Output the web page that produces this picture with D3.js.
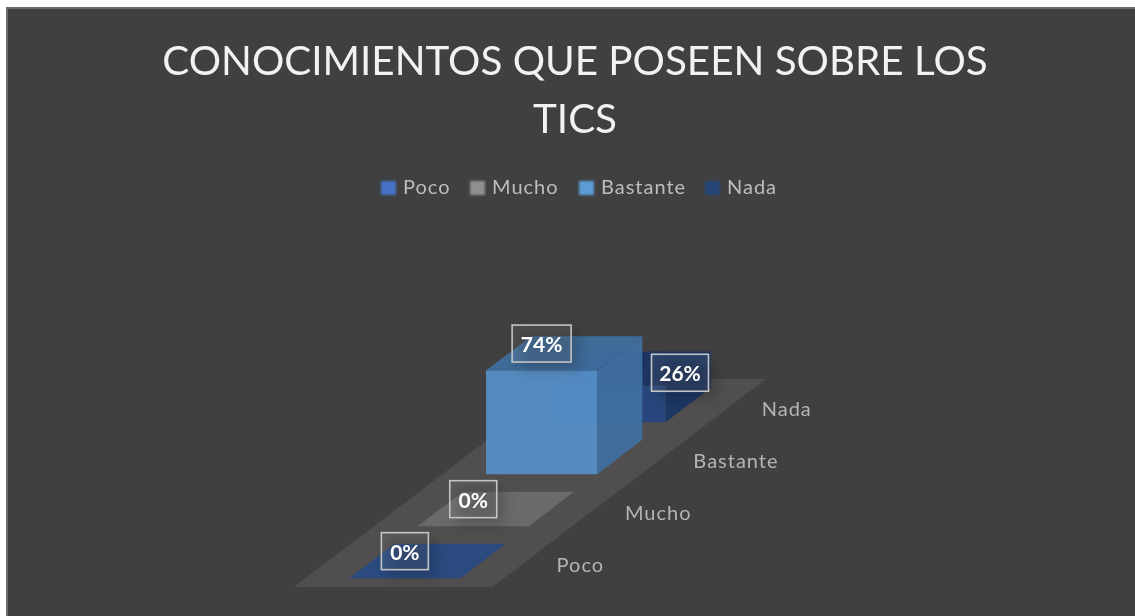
<!DOCTYPE html>
<html><head><meta charset="utf-8">
<script src="https://cdn.jsdelivr.net/npm/d3@7/dist/d3.min.js"></script>
<style>html,body{margin:0;padding:0;background:#fff}svg{display:block;filter:blur(0.45px)}text{font-family:Lato,Carlito,"Open Sans",sans-serif}</style>
</head><body><svg id="c" width="1135" height="616"></svg>
<script>
const titleLines = ["CONOCIMIENTOS QUE POSEEN SOBRE LOS", "TICS"];
const categories = ["Poco", "Mucho", "Bastante", "Nada"];
const values = [0, 0, 74, 26];
const labels = ["0%", "0%", "74%", "26%"];
const legendSwatch = ["#4472c4", "#8f8f8f", "#5b9bd5", "#264478"];
const frontFill = ["#2a4a80", "#6a6a6a", "#5690c8", "#27467c"];
const sideFill = ["#2a4a80", "#6a6a6a", "#3f70a2", "#1d3763"];
const topFill = ["#2a4a80", "#6a6a6a", "#3e6f9f", "#1c345f"];

const W = 1135, H = 616;
const svg = d3.select("#c");
const defs = svg.append("defs");
defs.append("filter").attr("id","sh").attr("x","-40%").attr("y","-40%").attr("width","180%").attr("height","180%")
  .append("feGaussianBlur").attr("stdDeviation",7);
defs.append("filter").attr("id","sw").attr("x","-40%").attr("y","-40%").attr("width","180%").attr("height","180%")
  .append("feGaussianBlur").attr("stdDeviation",0.9);

// frame
svg.append("rect").attr("x",6).attr("y",7).attr("width",W).attr("height",H).attr("fill","#404040");
svg.append("path").attr("d",`M7,${H}V8H${W}`).attr("fill","none").attr("stroke","#6c6c6c").attr("stroke-width",2);

// title
svg.append("g").selectAll("text").data(titleLines).join("text")
  .attr("x",575).attr("y",(d,i)=>75+i*58).attr("text-anchor","middle")
  .attr("font-size",40.4).attr("fill","#f2f2f2").text(d=>d);

// legend
const legendX = d3.scaleOrdinal().domain(categories).range([381,470,579,705]);
const lg = svg.append("g").selectAll("g").data(categories).join("g")
  .attr("transform",d=>`translate(${legendX(d)},181)`);
lg.append("rect").attr("width",15).attr("height",14).attr("fill",(d,i)=>legendSwatch[i]).attr("filter","url(#sw)");
lg.append("text").attr("x",22).attr("y",13).attr("font-size",20).attr("fill","#bdbdbd").attr("letter-spacing",1).text(d=>d);

// pseudo-3D scales
const floorX0 = 294, floorY0 = 587, floorDepth = 208, floorWidth = 198.5, shear = 273.5/208;
const depth = d3.scaleBand().domain(categories).range([0,floorDepth]).paddingInner(0.34).paddingOuter(0.17);
const across = d3.scaleLinear().domain([0,1]).range([0,floorWidth]);
const height = d3.scaleLinear().domain([0,100]).range([0,140]);
const P = (u,d,v)=>[floorX0 + d*shear + across(u), floorY0 - d - height(v)];
const poly = pts => "M"+pts.map(p=>p.join(",")).join("L")+"Z";

// floor
svg.append("path").attr("d",poly([P(0,0,0),P(1,0,0),P(1,floorDepth,0),P(0,floorDepth,0)])).attr("fill","#504e4e");

const u0 = 0.22, u1 = 0.78;
const order = d3.range(categories.length).reverse();
const bars = svg.append("g");
order.forEach(i=>{
  const c = categories[i], v = values[i];
  const d0 = depth(c), d1 = d0 + depth.bandwidth();
  const g = bars.append("g");
  const op = c==="Bastante" ? 0.93 : 1;
  g.append("path").attr("d",poly([P(u1,d0,0),P(u1,d1,0),P(u1,d1,v),P(u1,d0,v)])).attr("fill",sideFill[i]).attr("fill-opacity",op);
  g.append("path").attr("d",poly([P(u0,d0,v),P(u1,d0,v),P(u1,d1,v),P(u0,d1,v)])).attr("fill",topFill[i]).attr("fill-opacity",op);
  g.append("path").attr("d",poly([P(u0,d0,0),P(u1,d0,0),P(u1,d0,v),P(u0,d0,v)])).attr("fill",frontFill[i]).attr("fill-opacity",op);
});

// category labels
const labelOffset = 251;
svg.append("g").selectAll("text").data(categories).join("text")
  .attr("x",d=>P(0,depth(d),0)[0]+labelOffset)
  .attr("y",d=>P(0,depth(d),0)[1]-6)
  .attr("font-size",20).attr("fill","#b4b4b4").attr("letter-spacing",1).text(d=>d);

// data labels: anchored on the front top edge of each bar; Nada's label was moved aside in the original
const boxW = [47,47,59,57];
const nudge = c => c==="Nada" ? [70,14] : [0,0];
const boxC = categories.map((c,i)=>{
  const a = P(0.5,depth(c),values[i]), n = nudge(c);
  return [a[0]+n[0], a[1]-27+n[1]];
});
const boxH = 37;
const dl = svg.append("g").selectAll("g").data(categories).join("g")
  .attr("transform",(d,i)=>`translate(${boxC[i][0]},${boxC[i][1]})`);
dl.append("rect").attr("x",(d,i)=>-boxW[i]/2+7).attr("y",-boxH/2+7).attr("width",(d,i)=>boxW[i]).attr("height",boxH)
  .attr("fill","#000").attr("fill-opacity",0.2).attr("filter","url(#sh)");
dl.append("rect").attr("x",(d,i)=>-boxW[i]/2).attr("y",-boxH/2).attr("width",(d,i)=>boxW[i]).attr("height",boxH)
  .attr("fill","#fff").attr("fill-opacity",0.07).attr("stroke","#c4c4c4").attr("stroke-width",1.6);
dl.append("text").attr("text-anchor","middle").attr("y",8.5).attr("font-size",21).attr("font-weight",700).attr("fill","#fff")
  .text((d,i)=>labels[i]);
</script></body></html>
